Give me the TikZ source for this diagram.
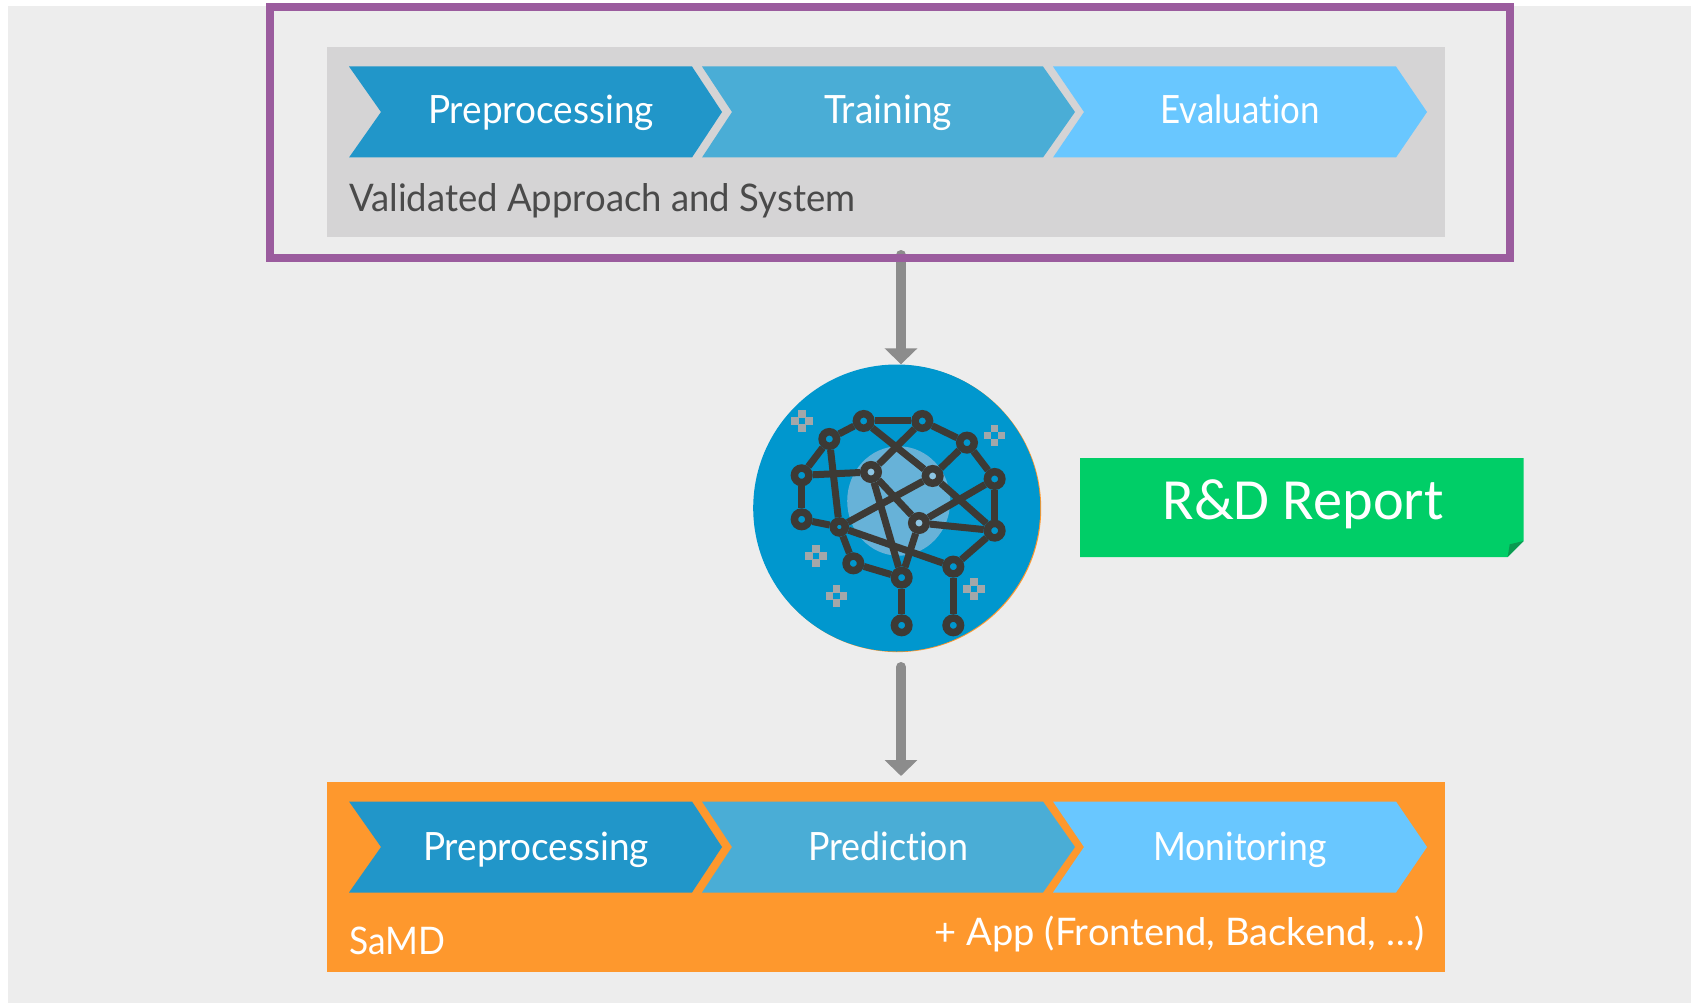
\documentclass[tikz,border=0pt]{standalone}
\usepackage{graphicx}
\usepackage{fontspec}
\setmainfont[Ligatures=NoCommon]{Lato}
\newfontfamily\reportfont{Carlito}
\usetikzlibrary{arrows.meta,backgrounds}
\definecolor{pagebg}{HTML}{EDEDED}
\definecolor{purpleframe}{HTML}{9B5C9E}
\definecolor{panelgray}{HTML}{D5D4D5}
\definecolor{panelorange}{HTML}{FE982D}
\definecolor{chevA}{HTML}{2196C9}
\definecolor{chevB}{HTML}{4AADD6}
\definecolor{chevC}{HTML}{69C7FF}
\definecolor{labeldark}{HTML}{4A4A4A}
\definecolor{arrowgray}{HTML}{8C8C8C}
\definecolor{brainblue}{HTML}{0097CE}
\definecolor{brainlight}{HTML}{67B2D8}
\definecolor{braindark}{HTML}{3D3A35}
\definecolor{specks}{HTML}{A3A7A9}
\definecolor{reportgreen}{HTML}{00CE67}
\definecolor{reportfold}{HTML}{0A9A50}
\newcommand{\fitw}[2]{\resizebox{#1pt}{\height}{#2}}
\tikzset{
  x=1pt,y=-1pt,
  steptext/.style={text=white,anchor=base,inner sep=0pt,font=\fontsize{39}{44}\selectfont},
  sidetext/.style={inner sep=0pt,font=\fontsize{38}{44}\selectfont},
  flowarrow/.style={draw=arrowgray,line width=10pt,line cap=round,-{Triangle[width=32pt,length=16pt]}},
  brainedge/.style={draw=braindark,line width=7pt},
  bn/.style={circle,draw=braindark,line width=7.5pt,fill=brainblue,minimum size=14.5pt,inner sep=0pt},
  bnl/.style={bn,fill=brainlight!75!white},
}
\newcommand{\chevrow}[1]{%
  \fill[chevA] (349,#1-45.5) -- (692,#1-45.5) -- (722,#1) -- (692,#1+45.5) -- (349,#1+45.5) -- (381,#1) -- cycle;
  \fill[chevB] (702,#1-45.5) -- (1043,#1-45.5) -- (1075,#1) -- (1043,#1+45.5) -- (702,#1+45.5) -- (732,#1) -- cycle;
  \fill[chevC] (1053,#1-45.5) -- (1396,#1-45.5) -- (1427,#1) -- (1396,#1+45.5) -- (1053,#1+45.5) -- (1084,#1) -- cycle;
}
\begin{document}
\begin{tikzpicture}
\useasboundingbox (0,0) rectangle (1691,1003);
\fill[white] (0,0) rectangle (1691,1003);
\fill[pagebg] (8,6) rectangle (1691,1003);

% top panel
\node[fill=panelgray,inner sep=0pt,minimum width=1118pt,minimum height=190pt,anchor=north west] (toppanel) at (327,47) {};
\chevrow{112}
\node[steptext] (t1) at (541,124) {\fitw{226}{Preprocessing}};
\node[steptext] (t2) at (888,124) {\fitw{128}{Training}};
\node[steptext] (t3) at (1240,124) {\fitw{159}{Evaluation}};
\node[sidetext,text=labeldark,anchor=base west] (toplabel) at (349,211.5) {\fitw{506}{Validated Approach and System}};

% bottom panel
\node[fill=panelorange,inner sep=0pt,minimum width=1118pt,minimum height=190pt,anchor=north west] (botpanel) at (327,782) {};
\chevrow{847}
\node[steptext] (b1) at (536,860) {\fitw{226}{Preprocessing}};
\node[steptext] (b2) at (888,860) {\fitw{160}{Prediction}};
\node[steptext] (b3) at (1240,860) {\fitw{173}{Monitoring}};
\node[sidetext,text=white,anchor=base west] (samd) at (349,954) {\fitw{96}{SaMD}};
\node[sidetext,text=white,anchor=base east] (app) at (1425,945) {\fitw{490}{+ App (Frontend, Backend, …)}};

% brain
\fill[panelorange] (897.7,508.6) circle (143.5);
\node[circle,fill=brainblue,inner sep=0pt,minimum size=287pt] (brain) at (896.7,508) {};
\fill[brainlight] (898.7,501) ellipse (51.5 and 54.7);
\begin{scope}[shift={(720,340)},x=0.3333pt,y=-0.3333pt]
  \foreach \cx/\cy in {246/243,824/287,288/648,350/768,762/747}{
    \foreach \dx/\dy in {-21/0,21/0,0/-21,0/21}{
      \fill[specks] (\cx+\dx-11,\cy+\dy-11) rectangle (\cx+\dx+11,\cy+\dy+11);
    }
  }
  \node[bn] (na) at (431,243) {};
  \node[bn] (nb) at (607,243) {};
  \node[bn] (nc) at (328,297) {};
  \node[bn] (nd) at (741,308) {};
  \node[bn] (ne) at (245,406) {};
  \node[bnl] (nf) at (453,396) {};
  \node[bnl] (ng) at (638,408) {};
  \node[bn] (nh) at (824,417) {};
  \node[bn] (ni) at (245,538) {};
  \node[bn,minimum size=12pt] (nj) at (358,561) {};
  \node[bnl] (nk) at (597,549) {};
  \node[bn] (nl) at (824,572) {};
  \node[bn] (nm) at (400,670) {};
  \node[bn] (nn) at (545,713) {};
  \node[bn] (no) at (700,680) {};
  \node[bn] (np) at (545,856) {};
  \node[bn] (nq) at (700,856) {};
  \foreach \u/\v in {na/nb,na/nc,nc/ne,ne/ni,ni/nj,nc/nj,ne/nf,nj/nm,nm/nn,nn/np,no/nq,no/nl,nl/nh,nh/nk,nk/nl,nb/nd,nd/nh,na/ng,nb/nf,ng/nd,ng/nj,nf/nk,nf/nn,nk/nn,nj/no,ng/nl}{
    \draw[brainedge] (\u) -- (\v);
  }
\end{scope}

% arrows
\coordinate (topstart) at (901,255);
\coordinate (bottomstart) at (901,667);
\draw[flowarrow] (topstart) -- (topstart |- brain.north);
\draw[flowarrow,shorten >=6pt] (bottomstart) -- (bottomstart |- botpanel.north);

% purple frame over the arrow
\node[draw=purpleframe,line width=8.5pt,inner sep=0pt,minimum width=1240pt,minimum height=250.5pt,anchor=north west] (frame) at (265.5,3) {};

% report badge
\fill[reportgreen] (1080,458) -- (1523.7,458) -- (1523.7,541) -- (1507.7,557) -- (1080,557) -- cycle;
\fill[reportfold] (1507.7,557) -- (1509.7,544.3) -- (1523.7,541) -- cycle;
\node[anchor=base,text=white,inner sep=0pt,font=\reportfont\fontsize{58.3}{60}\selectfont] (report) at (1303,519) {R\&D Report};
\end{tikzpicture}
\end{document}
